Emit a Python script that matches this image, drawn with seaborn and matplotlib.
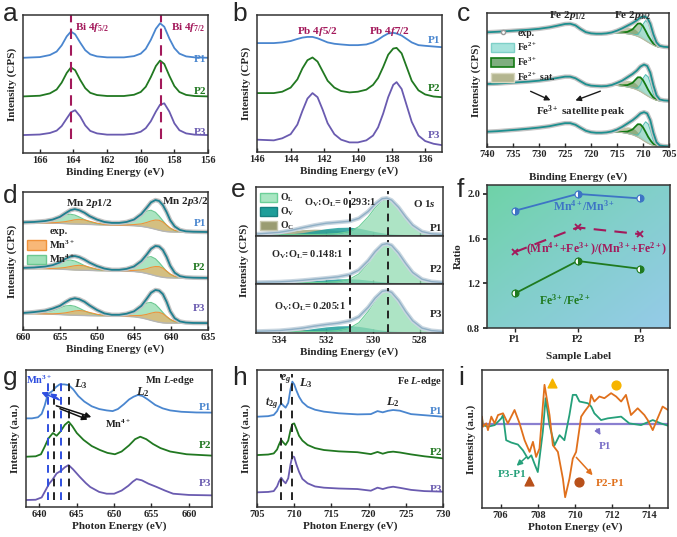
import numpy as np
import matplotlib
matplotlib.use("Agg")
import matplotlib.pyplot as plt
import seaborn as sns
from matplotlib.patches import Patch
from matplotlib.lines import Line2D
from matplotlib.colors import LinearSegmentedColormap

# ---------------- data ----------------
# (a) Bi 4f, intensities above each curve's own baseline
bi_x = [167.0, 166.0, 165.4, 165.0, 164.7, 164.4, 164.15, 163.9, 163.6, 163.3, 163.0, 162.6, 162.0, 161.0,
        160.4, 160.0, 159.7, 159.4, 159.1, 158.85, 158.6, 158.3, 158.0, 157.7, 157.3, 156.8, 156.0]
bi_p1 = [0, 0.5, 2, 4.5, 9, 15.5, 19, 17, 11, 5.5, 2.5, 1, 0.3, 0.3, 1.2, 3, 6.5, 13, 21, 25, 22.5, 14, 7, 3, 1, 0.3, 0]
bi_p2 = [0, 0.5, 2.2, 5, 10, 17, 21, 19, 12, 6, 2.6, 1, 0.3, 0.3, 1.2, 3.2, 7, 14, 22, 26, 23.5, 15, 7.5, 3.2, 1.1, 0.3, 0]
bi_p3 = [0, 0.4, 1.5, 3.2, 6.5, 12, 16.5, 18, 13.5, 7, 3, 1.2, 0.3, 0.3, 1, 2.4, 5, 10, 17, 22, 23, 17, 8.5, 3.5, 1.2, 0.3, 0]

# (b) Pb 4f
pb_x = [146, 145, 144.5, 144, 143.6, 143.3, 143.0, 142.7, 142.4, 142.1, 141.8, 141.4, 141, 140.5, 140,
        139.5, 139.1, 138.8, 138.5, 138.2, 137.9, 137.7, 137.4, 137.1, 136.8, 136.4, 136, 135.5, 135]
pb_p1 = [79.5, 79.5, 80, 81, 82.5, 83.5, 84, 84, 83, 81.5, 80, 79, 78.5, 78, 78, 78.5, 80, 82, 84.5, 86.5,
         87, 86.5, 85, 82.5, 80, 78, 77.5, 77, 76.5]
pb_p2 = [43, 43, 44, 47, 53, 61, 67, 69, 66, 59, 52, 47, 44.5, 43.5, 44, 45.5, 49, 54, 62, 71, 75.5, 76, 72,
         62, 52, 45, 42, 40.5, 40]
pb_p3 = [9, 8.5, 10, 13, 20, 30, 39, 43, 40, 31, 21, 13, 9, 7, 7, 8.5, 12, 18, 28, 40, 49, 51, 46, 34, 22,
         12, 8, 6, 5]

# (c) Fe 2p
fe_x = [740, 738, 736, 734, 732, 730, 728, 726.5, 725, 724, 723, 722, 721, 720, 719, 718, 717, 716, 715,
        714, 713, 712, 711.2, 710.5, 709.8, 709.2, 708.6, 708.0, 707.4, 706.8, 706, 705]
fe_p1 = [85.6, 86, 86.5, 87, 87.5, 88.2, 89.3, 90.5, 91.8, 92, 90.8, 88, 85.7, 84.8, 84.5, 84.5, 84.8, 85.5,
         86.8, 88.5, 90.5, 92.5, 94.5, 96.7, 97.5, 96.5, 92, 84, 78, 75.5, 74.8, 74.5]
fe_p2 = [47, 47.3, 47.8, 48.3, 48.8, 49.5, 50.5, 51.5, 52.5, 52.5, 51.3, 49, 46.8, 45.8, 45.5, 45.3, 45.5,
         46.3, 47.8, 49.5, 52, 54.5, 57, 60, 61.5, 60.5, 55.5, 46, 38.5, 35.5, 34.8, 34.5]
fe_p3 = [11.4, 11.8, 12.4, 13, 13.7, 14.5, 15.5, 16.7, 17.8, 17.8, 16.6, 14.3, 12.1, 11, 10.6, 10.6, 10.9,
         11.6, 13, 15, 17.5, 20, 22.5, 25, 26, 25, 20, 10.5, 3.5, 1.2, 0.7, 0.5]
fec_x = [716, 715, 714, 713, 712, 711.5, 711, 710.5, 710, 709.5, 709, 708.5, 708, 707.5, 707, 706.5]
fe_sat = [0.1, 1.4, 3.5, 5.0, 5.2, 4.6, 3.5, 2.6, 1.9, 1.3, 0.8, 0.5, 0.3, 0.2, 0.1, 0]
fe3_h = [0, 0.2, 0.5, 1.4, 4.0, 6.8, 9.6, 10.6, 9.7, 7.4, 4.8, 2.8, 1.2, 0.4, 0.1, 0]
fe2_h = [0, 0, 0, 0.1, 0.3, 0.6, 1.6, 5.0, 11.0, 15.0, 14.5, 9.8, 3.8, 0.9, 0.1, 0]
fe_bg1 = [85.5, 85.3, 85.0, 84.5, 83.8, 83.2, 82.5, 81.6, 80.5, 79.3, 78.1, 77.0, 75.9, 75.1, 74.7, 74.5]
fe_bg2 = [46.3, 46.0, 45.5, 44.8, 43.9, 43.2, 42.4, 41.4, 40.2, 39.0, 37.8, 36.7, 35.7, 35.0, 34.7, 34.5]
fe_bg3 = [11.6, 11.3, 10.8, 10.1, 9.1, 8.3, 7.4, 6.3, 5.0, 3.8, 2.7, 1.8, 1.1, 0.7, 0.55, 0.5]

# (d) Mn 2p
mn_x = [660, 658.5, 657, 656, 655, 654.3, 653.6, 653.0, 652.4, 651.7, 651, 650, 649, 648, 647, 646, 645,
        644, 643.3, 642.7, 642.1, 641.6, 641.1, 640.6, 640.1, 639.5, 638.8, 638, 637, 635]
mn_p1 = [78, 78.3, 79, 80, 82, 84.5, 86.8, 87.6, 86.8, 85, 82.5, 80, 78.3, 77.6, 77.6, 78.3, 80, 84, 88.5,
         92.5, 94.2, 93.5, 90.5, 85.5, 79.5, 75, 72.5, 71.5, 71.2, 71]
mn_p2 = [45, 45.3, 46, 47, 49, 51.5, 53.2, 53.6, 52.8, 51, 48.8, 46.3, 44.5, 43.6, 43.6, 44.3, 46, 50, 54.5,
         58.8, 60.9, 60.5, 58, 53, 46.5, 41.5, 39, 38.2, 37.9, 37.7]
mn_p3 = [12.3, 13, 14, 15.5, 17.5, 20, 22.2, 23, 22.3, 20.5, 17.8, 14.5, 12, 11, 11, 11.8, 13.5, 17.5, 22.5,
         27, 29, 28.5, 26, 20.5, 13.5, 8.5, 6.2, 5.4, 5.1, 5]
mn4_h = [0, 0.3, 1.2, 2.5, 4.8, 6.4, 7.0, 6.5, 5.2, 3.4, 1.9, 0.8, 0.4, 0.5, 1.0, 2.2, 4.6, 8.5, 11.6, 13.0,
         12.3, 10.2, 7.5, 4.7, 2.5, 1.0, 0.3, 0.1, 0, 0]
mn3_h = [0, 0, 0.1, 0.3, 0.8, 1.4, 2.3, 3.1, 3.5, 3.2, 2.3, 1.1, 0.4, 0.1, 0.1, 0.3, 0.8, 1.8, 3.4, 5.2, 6.7,
         7.2, 6.6, 4.8, 2.8, 1.2, 0.4, 0.1, 0, 0]
mn_bg1 = [77.6, 77.6, 77.5, 77.4, 77.3, 77.1, 76.9, 76.8, 76.7, 76.6, 76.5, 76.3, 76.1, 76, 75.9, 75.8, 75.6,
          75.1, 74.5, 73.8, 73.0, 72.3, 71.7, 71.3, 71.1, 71, 71, 71, 71, 71]
mn_bg2 = [44.5, 44.5, 44.4, 44.3, 44.1, 43.9, 43.7, 43.5, 43.4, 43.3, 43.2, 43.0, 42.9, 42.8, 42.7, 42.6,
          42.4, 41.8, 41.0, 40.2, 39.3, 38.7, 38.2, 37.9, 37.8, 37.7, 37.7, 37.7, 37.7, 37.7]
mn_bg3 = [11.8, 11.8, 11.6, 11.4, 11.2, 11.0, 10.8, 10.7, 10.6, 10.5, 10.4, 10.3, 10.2, 10.1, 10.0, 9.9, 9.6,
          8.8, 7.9, 7.0, 6.2, 5.6, 5.2, 5.0, 5.0, 5.0, 5.0, 5.0, 5.0, 5.0]

# (e) O 1s components
o_x = [535, 534, 533.5, 533, 532.5, 532, 531.5, 531, 530.6, 530.2, 529.9, 529.6, 529.4, 529.2, 528.9,
       528.6, 528.3, 527.9, 527.5, 527]
ol_p1 = [0, 0, 0, 0, 0, 0.005, 0.02, 0.06, 0.16, 0.36, 0.55, 0.69, 0.72, 0.69, 0.55, 0.36, 0.19, 0.06, 0.015, 0]
ol_p2 = [0, 0, 0, 0, 0, 0.005, 0.02, 0.07, 0.18, 0.40, 0.61, 0.77, 0.80, 0.77, 0.61, 0.40, 0.21, 0.07, 0.02, 0]
ol_p3 = [0, 0, 0, 0, 0, 0.005, 0.02, 0.07, 0.18, 0.41, 0.63, 0.79, 0.82, 0.79, 0.63, 0.41, 0.22, 0.07, 0.02, 0]
ov_p1 = [0, 0.005, 0.015, 0.04, 0.08, 0.12, 0.145, 0.15, 0.13, 0.09, 0.06, 0.035, 0.02, 0.01, 0.004, 0, 0, 0, 0, 0]
ov_p2 = [0, 0.003, 0.008, 0.02, 0.04, 0.06, 0.077, 0.08, 0.07, 0.05, 0.032, 0.018, 0.01, 0.005, 0.002, 0, 0, 0, 0, 0]
ov_p3 = [0, 0.004, 0.012, 0.03, 0.065, 0.095, 0.115, 0.12, 0.105, 0.075, 0.048, 0.028, 0.016, 0.008, 0.003, 0, 0, 0, 0, 0]
oc_p1 = [0.01, 0.04, 0.07, 0.1, 0.11, 0.105, 0.085, 0.06, 0.04, 0.022, 0.012, 0.006, 0.003, 0.001, 0, 0, 0, 0, 0, 0]
oc_p2 = [0.003, 0.012, 0.02, 0.027, 0.03, 0.028, 0.022, 0.015, 0.01, 0.005, 0.003, 0.001, 0, 0, 0, 0, 0, 0, 0, 0]
oc_p3 = [0.004, 0.016, 0.03, 0.04, 0.045, 0.043, 0.035, 0.025, 0.016, 0.009, 0.005, 0.002, 0.001, 0, 0, 0, 0, 0, 0, 0]
o_ratios = ["0.293:1", "0.148:1", "0.205:1"]

# (f) ratios
samples = ["P1", "P2", "P3"]
mn_ratio = [1.85, 2.00, 1.96]
mix_ratio = [1.48, 1.70, 1.64]
fe_ratio = [1.11, 1.40, 1.33]

# (g) Mn L-edge
g1_x = [638.2, 639.0, 639.8, 640.3, 640.7, 641.0, 641.3, 641.7, 642.2, 642.7, 643.3, 643.9, 644.5, 645.2,
        646.0, 647.0, 648.0, 649.0, 649.8, 650.5, 651.3, 652.0, 652.6, 653.2, 653.8, 654.5, 655.5, 656.5,
        657.5, 659, 661, 663.1]
g1_y = [64.7, 64.7, 65.5, 68, 74, 80, 83, 84.5, 87.5, 89.5, 89.5, 89, 86, 81, 77, 73.5, 71.5, 70.5, 70, 71.5,
        75, 78.5, 80.5, 81.8, 81, 78.5, 74.5, 72, 70.5, 69.5, 69, 68.9]
g2_x = [638.2, 639.5, 640.2, 640.7, 641.2, 641.8, 642.3, 642.8, 643.4, 643.9, 644.4, 645.0, 645.9, 647.0,
        648.1, 649.1, 650.1, 651.0, 652.0, 652.8, 653.5, 654.3, 655.2, 656.2, 657.5, 659.7, 663.1]
g2_y = [36.7, 37, 38.5, 44, 50, 54, 52, 55, 60, 62.3, 59, 54, 49, 44.5, 41.6, 39.5, 38.5, 40.5, 45, 49.5,
        51.3, 49.5, 46, 43, 40.5, 38.5, 37.5]
g3_x = [638.2, 639.5, 640.3, 640.8, 641.3, 641.7, 642.3, 642.9, 643.4, 643.9, 644.5, 645.4, 646.2, 646.8,
        648.0, 649.0, 650.0, 651.0, 651.9, 652.5, 653.0, 653.7, 654.6, 655.7, 656.8, 657.9, 660, 663.1]
g3_y = [5.1, 5.3, 7, 12, 17, 19.6, 24.5, 26.5, 29, 30.6, 27.5, 22, 17.5, 14.6, 11, 9.7, 9.7, 12, 15.5, 18.5,
        20.4, 19.5, 17, 14.6, 12, 9.7, 8.8, 8.5]

# (h) Fe L-edge
h_x = [705, 706.5, 707.25, 707.7, 707.95, 708.25, 708.55, 708.85, 709.2, 709.5, 709.75, 710.0, 710.3, 710.65,
       711.1, 711.8, 712.8, 714, 716, 718.5, 720.3, 721.2, 721.9, 722.6, 723.3, 724.2, 725.7, 727.5, 730]
h_p1 = [65.9, 66.3, 67.2, 70, 73, 75.7, 74, 72.5, 76, 86, 91.5, 89.5, 85, 80.5, 76.5, 73.2, 71, 69.6, 68.4,
        67.6, 67.8, 70, 69.1, 70.2, 70.8, 70.3, 67.8, 67, 65.9]
h_p2 = [37.9, 38.3, 39.1, 42, 45.5, 49, 47, 45.3, 48.5, 56, 60.5, 61, 57, 52, 48.5, 45.3, 43, 41.6, 40.6, 40,
        38.6, 40.2, 38.9, 40, 40.4, 39.8, 38.4, 37, 35.5]
h_p3 = [10.7, 11, 11.6, 15, 18.5, 21.4, 19, 17.3, 21, 31, 37, 36.5, 31, 25.7, 20.5, 17.3, 15, 14.1, 13.5,
        13.1, 11.9, 14.1, 13.1, 14.2, 14.8, 14, 12.5, 11.6, 11.2]

# (i) difference spectra
d31_x = [705.0, 705.05, 705.32, 705.68, 706.04, 706.13, 706.30, 706.57, 706.93, 707.20, 707.47, 707.65,
         707.82, 708.00, 708.27, 708.42, 708.63, 708.90, 709.17, 709.43, 709.70, 709.88, 710.06, 710.24,
         710.69, 710.87, 711.04, 711.40, 711.76, 712.48, 712.92, 713.55, 714.18, 714.62, 715.0]
d31_y = [6, -0.7, -2.3, -0.7, 6, 9.3, -15.7, -18, -20, -25.7, -34, -30.7, -39, -47.3, -7.3, 26, -0.7, -20.7,
         -10.7, -15.7, 9.3, 29.3, 29.3, 22.7, 21, 17.7, 11, 4.3, 6, 7.7, 1, -0.7, 4.3, 1, -1.3]
d21_x = [705.0, 705.05, 705.23, 705.32, 705.5, 705.68, 705.86, 706.13, 706.39, 706.75, 707.02, 707.29, 707.56,
         707.74, 707.91, 708.09, 708.36, 708.63, 708.81, 709.08, 709.35, 709.47, 709.70, 709.88, 710.06,
         710.33, 710.51, 710.78, 710.87, 711.04, 711.31, 711.58, 711.94, 712.21, 712.48, 712.74, 713.01,
         713.37, 713.73, 713.91, 714.18, 714.44, 714.71, 715.0]
d21_y = [7.7, -2.3, 1, -5.7, 7.7, 1, 9.3, 11, 1, 14.3, 1, -15.7, -27.3, -17.3, -32.3, -24, 39.3, 9.3, -20.7,
         -27.3, -54, -72.3, -54, -34, -27.3, 7.7, 12.7, 19.3, 29.3, 22.7, 27.7, 26, 31, 27.7, 22.7, 29.3, 9.3,
         16, 9.3, 4.3, -5.7, 6, 17.7, 14.3]
p1_x = [705, 715]
p1_y = [0, 0]

# ---------------- style ----------------
sns.set_theme(style="ticks")
plt.rcParams["font.family"] = ["Liberation Serif", "DejaVu Serif"]
plt.rcParams.update({
    "font.weight": "bold", "axes.labelweight": "bold",
    "mathtext.fontset": "custom", "mathtext.rm": "Liberation Serif:bold",
    "mathtext.it": "Liberation Serif:italic:bold", "mathtext.bf": "Liberation Serif:bold",
    "axes.linewidth": 1.1, "axes.edgecolor": "#333333",
    "xtick.direction": "in", "ytick.direction": "in",
    "xtick.major.size": 3, "xtick.major.width": 1.0, "ytick.major.size": 3,
    "xtick.labelsize": 7.5, "ytick.labelsize": 7.5, "axes.labelsize": 8,
    "xtick.major.pad": 2, "ytick.major.pad": 2, "axes.labelpad": 2,
})

C1, C2, C3 = "#4a86cf", "#217821", "#6a5bb0"
CRIM = "#a3195b"
TEAL = "#1f7f8f"
HALO = "#c4c4c4"

W, H = 677, 537
fig = plt.figure(figsize=(W / 100, H / 100), dpi=100)


def box(l, t, r, b):
    return [l / W, 1 - b / H, (r - l) / W, (b - t) / H]


def plabels(ax, x, ys, ha="right"):
    for lab, y, c in zip(["P1", "P2", "P3"], ys, [C1, C2, C3]):
        ax.text(x, y, lab, color=c, fontsize=8, ha=ha, va="center")


def letter(x, y, s):
    fig.text(x / W, 1 - y / H, s, fontsize=19, family="Liberation Sans", weight="normal",
             ha="left", va="center")


# ---- a ----
ax = fig.add_axes(box(23, 15, 208, 153))
for y, off, c in ((bi_p1, 69, C1), (bi_p2, 41, C2), (bi_p3, 13, C3)):
    sns.lineplot(x=bi_x, y=np.array(y) + off, ax=ax, color=c, lw=1.3)
for xv in (164.15, 158.8):
    ax.axvline(xv, ymin=0.1, ymax=1, color=CRIM, ls=(0, (5, 3)), lw=1.5)
ax.text(163.9, 91, "Bi 4$f_{5/2}$", color=CRIM, fontsize=8, va="center")
ax.text(158.2, 91, "Bi 4$f_{7/2}$", color=CRIM, fontsize=8, va="center")
plabels(ax, 156.1, [67.4, 44.4, 14.5])
ax.set_xlim(167, 156)
ax.set_ylim(0, 100)
ax.set_xticks([166, 164, 162, 160, 158, 156])
ax.set_yticks([])
ax.set_xlabel("Binding Energy (eV)")
ax.set_ylabel("Intensity (CPS)", labelpad=4)
letter(3, 14, "a")

# ---- b ----
ax = fig.add_axes(box(257, 15, 442, 152))
for y, c in ((pb_p1, C1), (pb_p2, C2), (pb_p3, C3)):
    sns.lineplot(x=pb_x, y=y, ax=ax, color=c, lw=1.3)
ax.text(142.4, 88, "Pb 4$f$5/2", color=CRIM, fontsize=8, ha="center", va="center")
ax.text(138.1, 88, "Pb 4$f$7/2", color=CRIM, fontsize=8, ha="center", va="center")
plabels(ax, 135.1, [81.7, 46.7, 12.4])
ax.set_xlim(146, 135)
ax.set_ylim(0, 100)
ax.set_xticks([146, 144, 142, 140, 138, 136])
ax.set_yticks([])
ax.set_xlabel("Binding Energy (eV)")
ax.set_ylabel("Intensity (CPS)", labelpad=4)
letter(232, 14, "b")

# ---- c ----
ax = fig.add_axes(box(487, 13, 669, 147))
for env, bg in ((fe_p1, fe_bg1), (fe_p2, fe_bg2), (fe_p3, fe_bg3)):
    bg = np.array(bg)
    ax.fill_between(fec_x, bg, bg + fe_sat, color="#9ea46e", alpha=0.6, lw=0)
    ax.fill_between(fec_x, bg, bg + fe3_h, color="#4f8f4f", alpha=0.45, lw=0)
    ax.fill_between(fec_x, bg, bg + fe2_h, color="#a6e3dc", alpha=0.75, lw=0)
    ax.plot(fec_x, bg + fe2_h, color="#56bfb4", lw=0.8)
    ax.plot(fec_x, bg + fe3_h, color="#137a13", lw=1.3)
    ax.plot(fec_x, bg, color="#b9b9a0", lw=0.8)
    ax.plot(fe_x, env, color=HALO, lw=3.2)
    sns.lineplot(x=fe_x, y=env, ax=ax, color="#1d8f8f", lw=1.3)
ax.text(724.5, 98.5, "Fe 2$p_{1/2}$", fontsize=8, ha="center", va="center")
ax.text(712.0, 98.5, "Fe 2$p_{3/2}$", fontsize=8, ha="center", va="center")
ax.text(722.0, 26.5, "Fe$^{3+}$ satellite peak", fontsize=8, ha="center", va="center")
for x0, x1 in ((732.1, 727.3), (717.7, 723.5)):
    ax.annotate("", xy=(x1, 34), xytext=(x0, 42.4),
                arrowprops=dict(arrowstyle="-|>", color="k", lw=1.0, mutation_scale=8))
handles = [Line2D([], [], marker="o", ls="none", mfc="white", mec="#999999", ms=3, label="exp."),
           Patch(fc="#a6e3dc", ec="#7fd0c8", label="Fe$^{2+}$"),
           Patch(fc="#7fae7f", ec="#137a13", lw=1.2, label="Fe$^{3+}$"),
           Patch(fc="#b4b690", ec="#d8d8c0", label="Fe$^{2+}$ sat.")]
ax.legend(handles=handles, loc="upper left", bbox_to_anchor=(-0.01, 0.93), frameon=False, fontsize=7,
          handlelength=2.4, handleheight=1.1, labelspacing=0.25, borderpad=0.1, handletextpad=0.3)
ax.set_xlim(740, 705)
ax.set_ylim(0, 100)
ax.set_xticks(list(range(740, 704, -5)))
ax.set_yticks([])
ax.set_xlabel("Binding Energy (eV)", labelpad=10)
ax.set_ylabel("Intensity (CPS)", labelpad=4)
letter(457, 14, "c")

# ---- d ----
ax = fig.add_axes(box(23, 192, 208, 330))
for env, bg in ((mn_p1, mn_bg1), (mn_p2, mn_bg2), (mn_p3, mn_bg3)):
    bg = np.array(bg)
    ax.plot(mn_x, bg, color="#b5b5b5", lw=1.0)
    ax.fill_between(mn_x, bg, bg + mn4_h, color="#7fd6a0", alpha=0.65, lw=0)
    ax.plot(mn_x, bg + mn4_h, color="#6cc890", lw=0.8)
    ax.fill_between(mn_x, bg, bg + mn3_h, color="#f6a24e", alpha=0.55, lw=0)
    ax.plot(mn_x, bg + mn3_h, color="#f0923a", lw=0.8)
    ax.plot(mn_x, env, color=HALO, lw=3.2)
    sns.lineplot(x=mn_x, y=env, ax=ax, color=TEAL, lw=1.3)
ax.text(651.1, 92, "Mn 2$p$1/2", fontsize=8, ha="center", va="center")
ax.text(638.1, 93, "Mn 2$p$3/2", fontsize=8, ha="center", va="center")
handles = [Line2D([], [], marker="o", ls="none", mfc="white", mec="#999999", ms=0, label="exp."),
           Patch(fc="#f8b878", ec="#f0923a", label="Mn$^{3+}$"),
           Patch(fc="#9fe0b8", ec="#6cc890", label="Mn$^{4+}$")]
ax.legend(handles=handles, loc="upper left", bbox_to_anchor=(-0.01, 0.8), frameon=False, fontsize=7.5,
          handlelength=1.8, handleheight=1.0, labelspacing=0.2, borderpad=0.1, handletextpad=0.3)
plabels(ax, 635.3, [77.3, 45.6, 15.9])
ax.set_xlim(660, 635)
ax.set_ylim(0, 100)
ax.set_xticks([660, 655, 650, 645, 640, 635])
ax.set_yticks([])
ax.set_xlabel("Binding Energy (eV)")
ax.set_ylabel("Intensity (CPS)", labelpad=4)
letter(3, 196, "d")

# ---- e ----
subs = [(187, 236), (236, 284), (284, 333)]
o_sets = [(ol_p1, ov_p1, oc_p1), (ol_p2, ov_p2, oc_p2), (ol_p3, ov_p3, oc_p3)]
txt_pos = [(531.4, 0.67), (532.8, 0.6), (532.7, 0.53)]
p_pos = [0.16, 0.31, 0.37]
for k, ((t, b), (ol, ov, oc)) in enumerate(zip(subs, o_sets)):
    ax = fig.add_axes(box(256, t, 443, b))
    base = np.full(len(o_x), 0.03)
    ax.fill_between(o_x, base, base + oc, color="#8f9462", alpha=0.7, lw=0)
    ax.fill_between(o_x, base, base + ov, color="#1e9e9a", alpha=0.85, lw=0)
    ax.fill_between(o_x, base, base + ol, color="#92dcb2", alpha=0.75, lw=0)
    ax.plot(o_x, base + ol, color="#6ccf98", lw=0.8)
    tot = base + np.array(ol) + np.array(ov) + np.array(oc)
    ax.plot(o_x, tot, color="#c9d6e0", lw=3.0)
    sns.lineplot(x=o_x, y=tot, ax=ax, color="#8fb0c6", lw=1.0)
    for xv in (531.0, 529.35):
        ax.axvline(xv, ymin=0.02, ymax=0.92, color="#222222", ls=(0, (4, 3)), lw=1.4)
    ax.text(*txt_pos[k], "O$_\\mathrm{V}$:O$_\\mathrm{L}$= " + o_ratios[k], fontsize=7.5,
            ha="center", va="center")
    ax.text(527.05, p_pos[k], samples[k], fontsize=8, ha="right", va="center")
    ax.set_xlim(535, 527)
    ax.set_ylim(0, 1)
    ax.set_yticks([])
    ax.set_xticks([534, 532, 530, 528])
    if k == 0:
        ax.text(527.3, 0.67, "O 1$s$", fontsize=8, ha="right", va="center")
        handles = [Patch(fc="#a9e6c2", ec="#6ccf98", label="O$_\\mathrm{L}$"),
                   Patch(fc="#1e9e9a", ec="#178080", label="O$_\\mathrm{V}$"),
                   Patch(fc="#9a9c72", ec="#c8c8b0", label="O$_\\mathrm{C}$")]
        ax.legend(handles=handles, loc="upper left", bbox_to_anchor=(-0.01, 1.02), frameon=False,
                  fontsize=7, handlelength=1.8, handleheight=1.0, labelspacing=0.15, borderpad=0.1,
                  handletextpad=0.3)
    if k < 2:
        ax.set_xticklabels([])
    else:
        ax.set_xlabel("Binding Energy (eV)")
fig.text(244 / W, 1 - 260 / H, "Intensity (CPS)", rotation=90, ha="center", va="center", fontsize=8,
         weight="bold")
letter(231, 190, "e")

# ---- f ----
ax = fig.add_axes(box(487, 185, 670, 328))
grad = np.add.outer(np.linspace(0, 1, 50), np.linspace(0, 1, 50)) / 2
cmap = LinearSegmentedColormap.from_list("bg", ["#6fd3a8", "#83cfcc", "#95cbe8"])
ax.imshow(grad, extent=[-0.45, 2.48, 0.8, 2.08], origin="upper", aspect="auto", cmap=cmap, zorder=0)
xs = [0, 1, 2]
sns.lineplot(x=xs, y=mn_ratio, ax=ax, color="#3d74c5", lw=1.3, marker="o", ms=5, fillstyle="right",
             markerfacecoloralt="white", mec="#3d74c5", mew=0.8)
sns.lineplot(x=xs, y=mix_ratio, ax=ax, color=CRIM, lw=1.5, ls=(0, (6, 4)), marker="x", ms=5, mec=CRIM,
             mew=1.3)
sns.lineplot(x=xs, y=fe_ratio, ax=ax, color="#1f7a1f", lw=1.3, marker="o", ms=5, fillstyle="right",
             markerfacecoloralt="white", mec="#1f7a1f", mew=0.8)
ax.text(1.1, 1.885, "Mn$^{4+}$/Mn$^{3+}$", color="#3d74c5", fontsize=8.5, ha="center", va="center")
ax.text(1.3, 1.50, "(Mn$^{4+}$+Fe$^{3+}$)/(Mn$^{3+}$+Fe$^{2+}$)", color=CRIM, fontsize=8.5, ha="center",
        va="center")
ax.text(0.8, 1.05, "Fe$^{3+}$/Fe$^{2+}$", color="#1f7a1f", fontsize=8.5, ha="center", va="center")
ax.set_xlim(-0.45, 2.48)
ax.set_ylim(0.8, 2.08)
ax.set_xticks(xs)
ax.set_xticklabels(samples)
ax.set_yticks([0.8, 1.2, 1.6, 2.0])
ax.set_yticklabels(["0.8", "1.2", "1.6", "2.0"])
ax.tick_params(direction="out")
ax.set_xlabel("Sample Label", labelpad=6)
ax.set_ylabel("Ratio", labelpad=3)
letter(457, 190, "f")

# ---- g ----
ax = fig.add_axes(box(26, 370, 212, 507))
for x, y, c in ((g1_x, g1_y, C1), (g2_x, g2_y, C2), (g3_x, g3_y, C3)):
    sns.lineplot(x=x, y=y, ax=ax, color=c, lw=1.3)
for xv, c in ((641.2, "#2f4fe0"), (642.9, "#2f4fe0"), (641.9, "#222222"), (644.0, "#222222")):
    ax.axvline(xv, ymin=0.05, ymax=0.93, color=c, ls=(0, (4, 3)), lw=1.4)
ax.text(640.0, 92.5, "Mn$^{3+}$", color="#2f4fe0", fontsize=7.5, ha="center", va="center")
ax.text(650.5, 61, "Mn$^{4+}$", color="#222222", fontsize=7.5, ha="center", va="center")
ax.text(645.6, 90, "$L_3$", fontsize=9, ha="center", va="center")
ax.text(653.9, 84, "$L_2$", fontsize=9, ha="center", va="center")
ax.text(657.5, 92.5, "Mn $L$-edge", fontsize=7.5, ha="center", va="center")
for (x0, y0), (x1, y1) in (((643.0, 77.4), (639.9, 84.5)), ((642.8, 78.0), (641.1, 84.0))):
    ax.annotate("", xy=(x1, y1), xytext=(x0, y0),
                arrowprops=dict(arrowstyle="-|>", color="#2f4fe0", lw=1.1, mutation_scale=8))
for (x0, y0), (x1, y1) in (((641.9, 74.5), (647.3, 65)), ((642.4, 72.5), (646.8, 63.0))):
    ax.annotate("", xy=(x1, y1), xytext=(x0, y0),
                arrowprops=dict(arrowstyle="-|>", color="#111111", lw=1.1, mutation_scale=8))
plabels(ax, 663.0, [72.8, 45, 17])
ax.set_xlim(638.2, 663.1)
ax.set_ylim(0, 100)
ax.set_xticks([640, 645, 650, 655, 660])
ax.set_yticks([])
ax.set_xlabel("Photon Energy (eV)")
ax.set_ylabel("Intensity (a.u.)", labelpad=4)
letter(3, 378, "g")

# ---- h ----
ax = fig.add_axes(box(257, 370, 443, 507))
for y, c in ((h_p1, C1), (h_p2, C2), (h_p3, C3)):
    sns.lineplot(x=h_x, y=y, ax=ax, color=c, lw=1.3)
for xv in (708.24, 709.75):
    ax.axvline(xv, ymin=0.05, ymax=0.97, color="#222222", ls=(0, (4, 3)), lw=1.4)
ax.text(707.0, 76, "$t_{2g}$", fontsize=8.5, ha="center", va="center")
ax.text(708.9, 93.5, "$e_g$", fontsize=8.5, ha="center", va="center")
ax.text(711.6, 90.3, "$L_3$", fontsize=9, ha="center", va="center")
ax.text(723.3, 76.5, "$L_2$", fontsize=9, ha="center", va="center")
ax.text(729.9, 91.5, "Fe $L$-edge", fontsize=7.5, ha="right", va="center")
plabels(ax, 729.9, [69.6, 40, 13])
ax.set_xlim(705, 730)
ax.set_ylim(0, 100)
ax.set_xticks([705, 710, 715, 720, 725, 730])
ax.set_yticks([])
ax.set_xlabel("Photon Energy (eV)")
ax.set_ylabel("Intensity (a.u.)", labelpad=4)
letter(232, 378, "h")

# ---- i ----
ax = fig.add_axes(box(482, 370, 668, 508))
sns.lineplot(x=p1_x, y=p1_y, ax=ax, color="#8a7fd0", lw=1.6)
sns.lineplot(x=d31_x, y=d31_y, ax=ax, color="#25a07a", lw=1.3, sort=False)
sns.lineplot(x=d21_x, y=d21_y, ax=ax, color="#e0701c", lw=1.3, sort=False)
ax.scatter([708.75], [41], marker="^", s=40, color="#f6b400", zorder=5)
ax.scatter([712.2], [38.7], marker="o", s=40, color="#f6b400", zorder=5)
ax.scatter([707.5], [-55.7], marker="^", s=40, color="#b8501a", zorder=5)
ax.scatter([710.2], [-57.3], marker="o", s=40, color="#b8501a", zorder=5)
ax.text(711.6, -22, "P1", color="#7a6fc8", fontsize=8, ha="center", va="center")
ax.text(706.6, -50, "P3-P1", color="#25a07a", fontsize=8, ha="center", va="center")
ax.text(711.9, -59, "P2-P1", color="#e0701c", fontsize=8, ha="center", va="center")
for (x0, y0), (x1, y1), c in (((711.1, -2.3), (711.45, -13), "#7a6fc8"),
                              ((707.5, -30.5), (706.75, -43), "#25a07a"),
                              ((709.97, -30.7), (711.05, -52.5), "#e0701c")):
    ax.annotate("", xy=(x1, y1), xytext=(x0, y0),
                arrowprops=dict(arrowstyle="-|>", color=c, lw=1.1, mutation_scale=8))
ax.set_xlim(705, 715)
ax.set_ylim(-83, 54)
ax.set_xticks([706, 708, 710, 712, 714])
ax.set_yticks([])
ax.set_xlabel("Photon Energy (eV)")
ax.set_ylabel("Intensity (a.u.)", labelpad=4)
letter(458, 378, "i")

fig.savefig("out.png", dpi=100)
